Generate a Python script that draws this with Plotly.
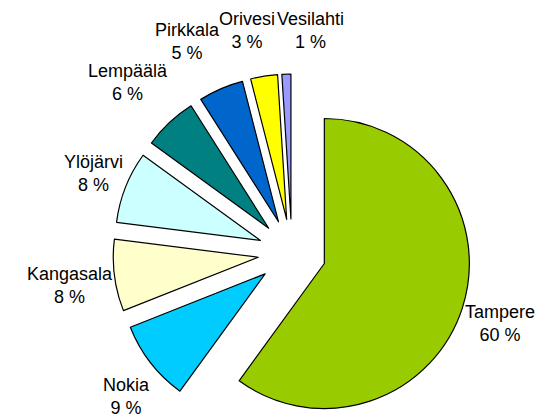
import math
import plotly.graph_objects as go

labels = ["Tampere", "Nokia", "Kangasala", "Ylöjärvi", "Lempäälä", "Pirkkala", "Orivesi", "Vesilahti"]
values = [60, 9, 8, 8, 6, 5, 3, 1]
colors = ["#99CC00", "#00CCFF", "#FFFFCC", "#CCFFFF", "#008080", "#0066CC", "#FFFF00", "#9999FF"]

# label block centres (pixels, from top-left)
label_x = [500, 126, 70, 93, 128, 187, 247, 310]
label_y = [323, 396, 285, 173, 82, 42, 31, 31]

W, H = 545, 419
CX, CY = 292.0, 253.0      # pie centre (px)
R = 145.0                  # radius (px)
PULL = 34.0                # explode distance (px)

fig = go.Figure()
total = sum(values)
start = 0.0
for i, v in enumerate(values):
    mid = math.radians((start + v / 2) / total * 360.0)
    start += v
    cx = CX + PULL * math.sin(mid)
    cy = CY - PULL * math.cos(mid)
    dom_x = [(cx - R) / W, (cx + R) / W]
    dom_y = [1 - (cy + R) / H, 1 - (cy - R) / H]
    dom_x = [min(max(d, 0.0), 1.0) for d in dom_x]
    dom_y = [min(max(d, 0.0), 1.0) for d in dom_y]
    fig.add_trace(go.Pie(
        labels=labels,
        values=values,
        sort=False,
        direction="clockwise",
        rotation=0,
        marker=dict(
            colors=[c if j == i else "rgba(0,0,0,0)" for j, c in enumerate(colors)],
            line=dict(color="black", width=[1.2 if j == i else 0 for j in range(len(values))]),
        ),
        textinfo="none",
        showlegend=False,
        hoverinfo="skip",
        domain=dict(x=dom_x, y=dom_y),
    ))

for lab, val, lx, ly in zip(labels, values, label_x, label_y):
    fig.add_annotation(
        x=lx / W, y=1 - ly / H, xref="paper", yref="paper",
        text=f"{lab}<br>{val} %", showarrow=False,
        xanchor="center", yanchor="middle", align="center",
        font=dict(family="Liberation Sans, Arial", size=18, color="black"),
    )

fig.update_layout(
    width=W, height=H,
    margin=dict(l=0, r=0, t=0, b=0),
    paper_bgcolor="white",
    plot_bgcolor="white",
    showlegend=False,
)
fig.write_html(
    "out.html",
    config={"displayModeBar": False},
    post_script="document.body.style.margin='0';document.body.style.overflow='hidden';",
)
